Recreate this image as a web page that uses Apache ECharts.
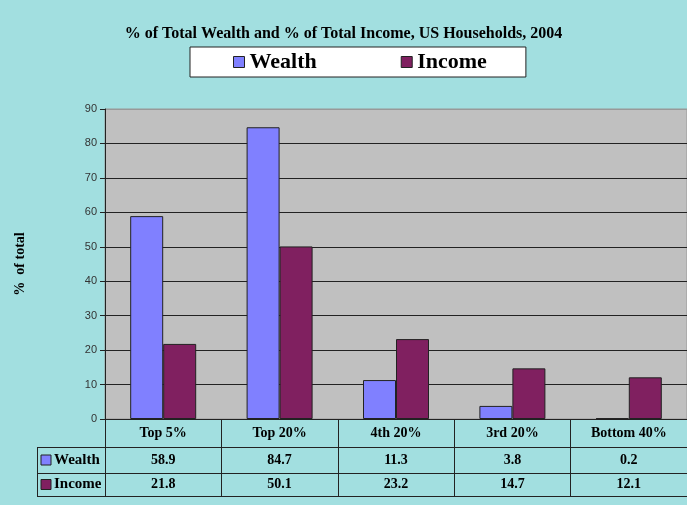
<html>
<head>
    <meta charset='utf-8' />
    <script src="https://cdn.jsdelivr.net/npm/echarts@6/dist/echarts.min.js"></script>
    <title>Wealth and Income</title>
    <style>
        html, body { margin: 0; padding: 0; overflow: hidden; background: #a2dfe0; }
        #main { width: 687px; height: 505px; }
    </style>
</head>
<body>
    <div id="main"></div>
    <script type="text/javascript">
        var categories = ['Top 5%', 'Top 20%', '4th 20%', '3rd 20%', 'Bottom 40%'];
        var wealth = [58.9, 84.7, 11.3, 3.8, 0.2];
        var income = [21.8, 50.1, 23.2, 14.7, 12.1];
        var seriesNames = ['Wealth', 'Income'];
        var colors = ['#8080ff', '#802060'];

        var serif = '"Liberation Serif", "DejaVu Serif", serif';
        var chart = echarts.init(document.getElementById('main'));

        // grid lines: black, except the top one which is grey like the frame
        var lineColors = ['#222', '#222', '#222', '#222', '#222', '#222', '#222', '#222', '#222', '#999'];

        var option = {
            backgroundColor: '#a2dfe0',
            animation: false,
            title: {
                text: '% of Total Wealth and % of Total Income, US Households, 2004',
                left: 'center',
                top: 21,
                textStyle: { fontFamily: serif, fontWeight: 'bold', fontSize: 16, color: '#000' }
            },
            legend: {
                data: seriesNames,
                left: 190,
                top: 47,
                backgroundColor: '#fff',
                borderColor: '#222',
                borderWidth: 1,
                borderRadius: 0,
                padding: [4, 39, 4, 43],
                itemWidth: 11,
                itemHeight: 11,
                itemGap: 84,
                icon: 'rect',
                itemStyle: { borderColor: '#222', borderWidth: 1 },
                textStyle: { fontFamily: serif, fontWeight: 'bold', fontSize: 22, color: '#000' }
            },
            grid: {
                left: 105,
                right: 0,
                top: 109,
                bottom: 86,
                show: true,
                backgroundColor: '#c0c0c0',
                borderColor: '#999',
                borderWidth: 1
            },
            xAxis: {
                type: 'category',
                data: categories,
                axisLine: { show: true, lineStyle: { color: '#222', width: 1 } },
                axisTick: { show: true, inside: false, length: 77, lineStyle: { color: '#222' } },
                axisLabel: { margin: 7, fontFamily: serif, fontWeight: 'bold', fontSize: 14, color: '#000' }
            },
            yAxis: {
                type: 'value',
                min: 0,
                max: 90,
                interval: 10,
                name: '%  of total',
                nameLocation: 'middle',
                nameGap: 78,
                nameTextStyle: { fontFamily: serif, fontWeight: 'bold', fontSize: 14, color: '#000' },
                axisLine: { show: true, lineStyle: { color: '#222' } },
                axisTick: { show: true, length: 5, lineStyle: { color: '#222' } },
                axisLabel: { margin: 8, fontFamily: '"Liberation Sans", sans-serif', fontSize: 11, color: '#333' },
                splitLine: { show: true, lineStyle: { color: lineColors, width: 1 } }
            },
            series: [{
                name: seriesNames[0],
                type: 'bar',
                data: wealth,
                barWidth: 33,
                barGap: '0%',
                itemStyle: { color: colors[0], borderColor: '#222', borderWidth: 1 }
            }, {
                name: seriesNames[1],
                type: 'bar',
                data: income,
                barWidth: 33,
                itemStyle: { color: colors[1], borderColor: '#222', borderWidth: 1 }
            }]
        };
        chart.setOption(option);

        // data table under the axis, built from the same arrays
        function buildTable() {
            var y0 = chart.convertToPixel({ yAxisIndex: 0 }, 0);
            var rowH = [28, 26, 23];
            var yRow1 = y0 + rowH[0];
            var yRow2 = yRow1 + rowH[1];
            var yEnd = yRow2 + rowH[2];
            var tableLeft = 37, tableRight = 687;
            var els = [];
            var lineStyle = { stroke: '#222', lineWidth: 1 };
            [yRow1, yRow2, yEnd].forEach(function (y) {
                els.push({ type: 'line', shape: { x1: tableLeft, y1: y + 0.5, x2: tableRight, y2: y + 0.5 }, style: lineStyle, z: 10 });
            });
            els.push({ type: 'line', shape: { x1: tableLeft + 0.5, y1: yRow1, x2: tableLeft + 0.5, y2: yEnd }, style: lineStyle, z: 10 });

            var rows = [wealth, income];
            var mids = [yRow1 + rowH[1] / 2, yRow2 + rowH[2] / 2];
            rows.forEach(function (vals, r) {
                els.push({ type: 'rect', shape: { x: 41, y: mids[r] - 5, width: 10, height: 10 },
                    style: { fill: colors[r], stroke: '#222', lineWidth: 1 }, z: 10 });
                els.push({ type: 'text', x: 54, y: mids[r],
                    style: { text: seriesNames[r], fontFamily: serif, fontWeight: 'bold', fontSize: 15,
                        fill: '#000', verticalAlign: 'middle', align: 'left' }, z: 10 });
                vals.forEach(function (v, i) {
                    var x = chart.convertToPixel({ xAxisIndex: 0 }, categories[i]);
                    els.push({ type: 'text', x: x, y: mids[r],
                        style: { text: v.toFixed(1), fontFamily: serif, fontWeight: 'bold', fontSize: 14,
                            fill: '#000', verticalAlign: 'middle', align: 'center' }, z: 10 });
                });
            });
            chart.setOption({ graphic: els });
        }
        buildTable();
    </script>
</body>
</html>
